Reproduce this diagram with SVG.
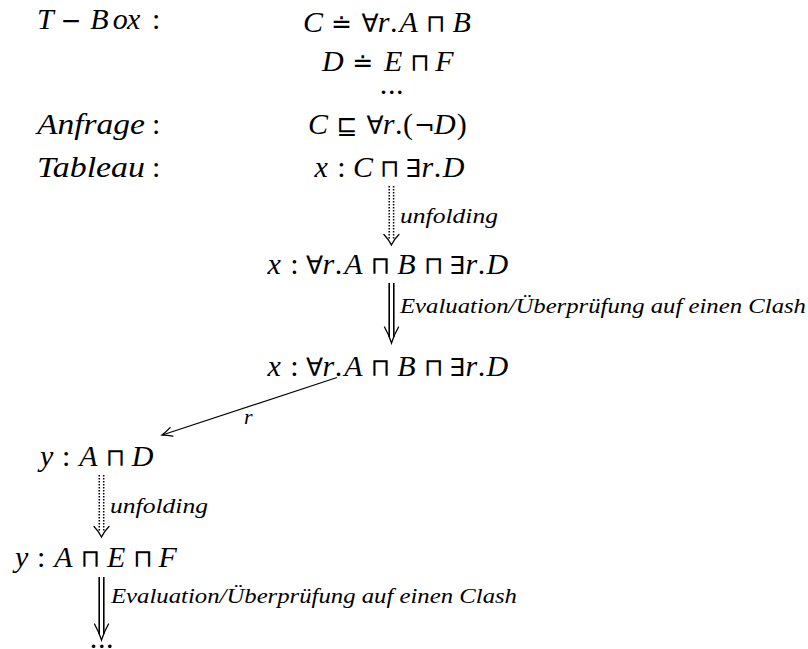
<svg xmlns="http://www.w3.org/2000/svg" width="808" height="649" viewBox="0 0 808 649">
<style>
.m{font-family:"Liberation Serif","Times New Roman",serif;font-size:30px;font-style:italic;fill:#000}
.s{font-family:"DejaVu Sans",sans-serif;font-size:25px;font-style:normal}
.u{font-style:normal}
.lb{font-family:"Liberation Serif","Times New Roman",serif;font-size:22px;font-style:italic;fill:#000}
.ev{font-size:21px}
.ln{stroke:#000;stroke-width:1.6;fill:none}
.thin{stroke:#000;stroke-width:1.2;fill:none}
.dot{stroke:#000;stroke-width:1.5;stroke-dasharray:1.5 1.5;fill:none}
.tip{stroke:#000;stroke-width:1.3;fill:none;stroke-linecap:round}
</style>
<defs>
<path id="dtip" d="M-7.5,-10.5 Q-3,-6 0,0 Q3,-6 7.5,-10.5"/>
<path id="ttip" d="M-7,-16 Q-2.5,-8 0,0 Q2.5,-8 7,-16"/>
</defs>
<rect width="808" height="649" fill="#fff"/>

<g id="tbox-label">
<text class="m" y="29"><tspan x="37">T</tspan><tspan class="s" x="60.7">−</tspan><tspan x="90.2">B</tspan><tspan x="112.7">o</tspan><tspan x="127">x</tspan><tspan class="u" x="152">:</tspan></text>
</g>
<g id="tbox-c">
<text class="m" y="32"><tspan x="303">C</tspan><tspan class="s" x="331.3">≐</tspan><tspan class="s" x="361.4">∀</tspan><tspan x="377.8">r</tspan><tspan class="u" x="390.1">.</tspan><tspan x="399.5">A</tspan><tspan class="s" x="425.7">⊓</tspan><tspan x="452.6">B</tspan></text>
</g>
<g id="tbox-d">
<text class="m" y="71"><tspan x="322">D</tspan><tspan class="s" x="352.5">≐</tspan><tspan x="383.9">E</tspan><tspan class="s" x="409.9">⊓</tspan><tspan x="435.3">F</tspan></text>
</g>
<g id="tbox-dots">
<text class="m u" x="392" y="94" text-anchor="middle" letter-spacing="0.6">...</text>
</g>
<g id="anfrage-label">
<text class="m" x="37" y="134" textLength="108" lengthAdjust="spacingAndGlyphs">Anfrage</text>
<text class="m u" x="152" y="134">:</text>
</g>
<g id="anfrage">
<text class="m" y="134"><tspan x="308">C</tspan><tspan class="s" x="336.3">⊑</tspan><tspan class="s" x="366.4">∀</tspan><tspan x="382.8">r</tspan><tspan class="u" x="395.1">.</tspan><tspan class="u" x="403">(</tspan><tspan class="s" x="414.1">¬</tspan><tspan x="434.1">D</tspan><tspan class="u" x="456.7">)</tspan></text>
</g>
<g id="tableau-label">
<text class="m" x="37" y="177" textLength="108" lengthAdjust="spacingAndGlyphs">Tableau</text>
<text class="m u" x="152" y="177">:</text>
</g>
<g id="tableau">
<text class="m" y="177"><tspan x="314.5">x</tspan><tspan class="u" x="337.2">:</tspan><tspan x="353.1">C</tspan><tspan class="s" x="379.8">⊓</tspan><tspan class="s" x="405.1">∃</tspan><tspan x="421.6">r</tspan><tspan class="u" x="433.8">.</tspan><tspan x="442.7">D</tspan></text>
</g>
<g id="x1">
<text class="m" y="274"><tspan x="267.5">x</tspan><tspan class="u" x="290.2">:</tspan><tspan class="s" x="306.1">∀</tspan><tspan x="322.5">r</tspan><tspan class="u" x="334.8">.</tspan><tspan x="344.2">A</tspan><tspan class="s" x="370.4">⊓</tspan><tspan x="397.3">B</tspan><tspan class="s" x="423.7">⊓</tspan><tspan class="s" x="449">∃</tspan><tspan x="465.5">r</tspan><tspan class="u" x="477.7">.</tspan><tspan x="486.6">D</tspan></text>
</g>
<g id="x2">
<text class="m" y="376"><tspan x="267.5">x</tspan><tspan class="u" x="290.2">:</tspan><tspan class="s" x="306.1">∀</tspan><tspan x="322.5">r</tspan><tspan class="u" x="334.8">.</tspan><tspan x="344.2">A</tspan><tspan class="s" x="370.4">⊓</tspan><tspan x="397.3">B</tspan><tspan class="s" x="423.7">⊓</tspan><tspan class="s" x="449">∃</tspan><tspan x="465.5">r</tspan><tspan class="u" x="477.7">.</tspan><tspan x="486.6">D</tspan></text>
</g>
<g id="y1">
<text class="m" y="466"><tspan x="40">y</tspan><tspan class="u" x="61.9">:</tspan><tspan x="79.2">A</tspan><tspan class="s" x="105.4">⊓</tspan><tspan x="131.8">D</tspan></text>
</g>
<g id="y2">
<text class="m" y="567"><tspan x="15">y</tspan><tspan class="u" x="36.9">:</tspan><tspan x="54.2">A</tspan><tspan class="s" x="80.4">⊓</tspan><tspan x="107.1">E</tspan><tspan class="s" x="133.1">⊓</tspan><tspan x="158.5">F</tspan></text>
</g>
<g id="end-dots">
<text class="m u" x="102" y="648" text-anchor="middle" letter-spacing="0.6">...</text>
</g>

<g id="connectors">
<line class="dot" x1="389.2" y1="186" x2="389.2" y2="240"/>
<line class="dot" x1="393.6" y1="186" x2="393.6" y2="240"/>
<use href="#dtip" x="391.4" y="245" class="tip"/>
<line class="ln" x1="389.2" y1="283" x2="389.2" y2="337"/>
<line class="ln" x1="393.8" y1="283" x2="393.8" y2="337"/>
<use href="#ttip" x="391.5" y="343" class="tip"/>
<line class="thin" x1="337" y1="377.5" x2="163" y2="434.7"/>
<path class="tip" d="M172.9,436.1 Q167,435.2 162,435 Q166.5,431.5 170.1,427.6"/>
<line class="dot" x1="99.3" y1="475" x2="99.3" y2="531"/>
<line class="dot" x1="103.7" y1="475" x2="103.7" y2="531"/>
<use href="#dtip" x="101.5" y="537" class="tip"/>
<line class="ln" x1="99.2" y1="577" x2="99.2" y2="634"/>
<line class="ln" x1="103.8" y1="577" x2="103.8" y2="634"/>
<use href="#ttip" x="101.5" y="640" class="tip"/>
</g>
<g id="edge-labels">
<text class="lb" x="400" y="223" textLength="98" lengthAdjust="spacingAndGlyphs">unfolding</text>
<text class="lb ev" x="400" y="313" textLength="406" lengthAdjust="spacingAndGlyphs">Evaluation/Überprüfung auf einen Clash</text>
<text class="lb" x="244" y="424">r</text>
<text class="lb" x="110" y="513" textLength="98" lengthAdjust="spacingAndGlyphs">unfolding</text>
<text class="lb ev" x="111" y="603" textLength="406" lengthAdjust="spacingAndGlyphs">Evaluation/Überprüfung auf einen Clash</text>
</g>
</svg>
